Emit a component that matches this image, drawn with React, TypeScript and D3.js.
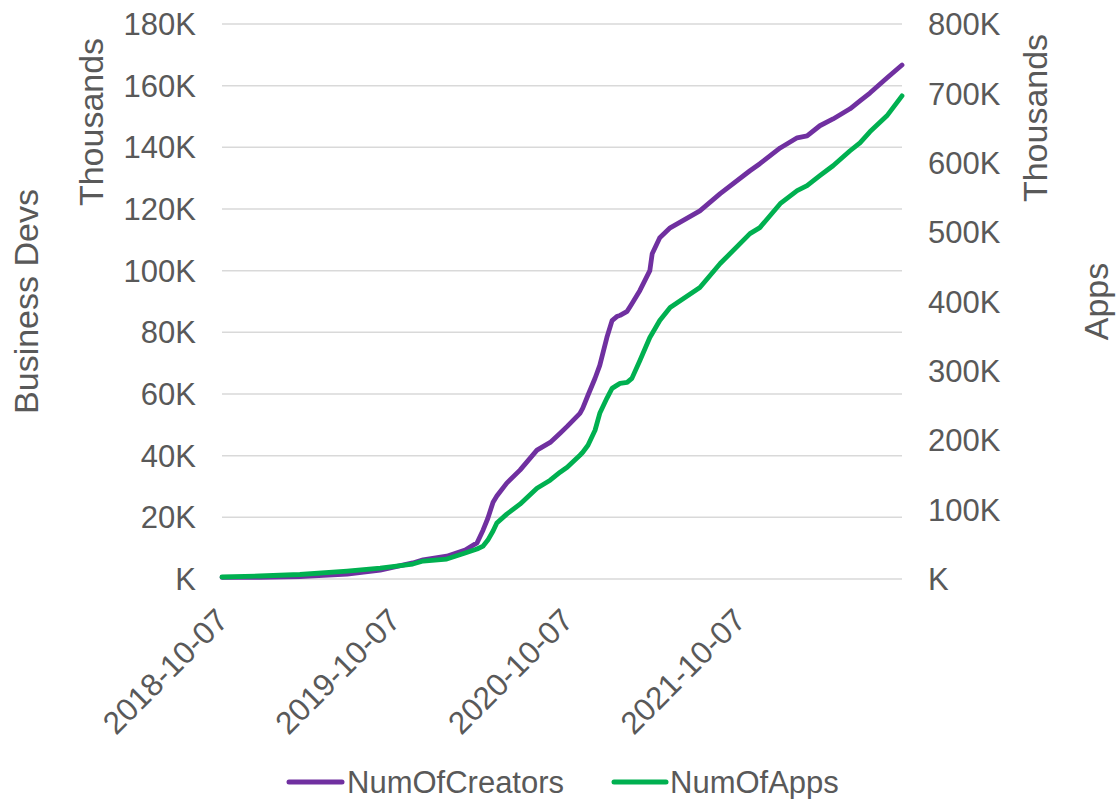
import React from "react";
import * as d3 from "d3";

const dates = [
  "2018-10-07","2018-12-26","2019-03-21","2019-06-29","2019-09-07","2019-11-15","2019-12-07",
  "2020-01-26","2020-03-05","2020-03-30","2020-04-12","2020-04-22","2020-05-03","2020-05-11",
  "2020-06-01","2020-06-29","2020-08-04","2020-09-01","2020-09-22","2020-10-07","2020-11-03",
  "2020-11-09","2020-11-20","2020-12-05","2020-12-15","2020-12-30","2021-01-10","2021-01-20",
  "2021-01-27","2021-02-11","2021-02-21","2021-03-10","2021-03-31","2021-04-05","2021-04-21",
  "2021-05-13","2021-07-15","2021-08-27","2021-10-29","2021-11-19","2022-01-01","2022-02-06",
  "2022-02-27","2022-03-26","2022-04-23","2022-05-29","2022-06-19","2022-07-10","2022-08-15",
  "2022-09-16",
];

// thousands
const numOfCreators = [
  0.5, 0.5, 0.8, 1.6, 2.9, 5.2, 6.2, 7.4, 9.4, 11.7, 15.9, 19.7, 24.9, 26.9,
  31.1, 35.3, 41.8, 44.3, 47.3, 49.5, 53.7, 55.4, 59.6, 65.1, 69.3, 78.3, 83.8, 85.1,
  85.5, 86.8, 89.3, 93.6, 100.0, 105.5, 110.7, 113.9, 119.4, 125.0, 132.4, 134.7, 139.8, 143.1,
  143.7, 147.0, 149.2, 152.5, 155.1, 157.6, 162.5, 166.7,
];

// thousands
const numOfApps = [
  2.9, 4.3, 6.5, 11.5, 15.8, 21.6, 25.9, 28.8, 37.4, 43.2, 47.5, 56.1, 69.1, 80.6,
  93.5, 107.9, 130.9, 142.4, 154.0, 161.1, 178.4, 182.7, 192.8, 214.4, 238.8, 260.4, 274.8, 279.1,
  282.0, 283.4, 289.2, 315.1, 348.2, 353.9, 372.6, 391.4, 420.1, 454.7, 497.8, 506.5, 541.0, 559.7,
  566.9, 581.3, 595.7, 617.3, 628.8, 644.6, 667.6, 696.4,
];

const leftTicks = [0, 20, 40, 60, 80, 100, 120, 140, 160, 180];
const rightTicks = [0, 100, 200, 300, 400, 500, 600, 700, 800];
const xTickDates = ["2018-10-07", "2019-10-07", "2020-10-07", "2021-10-07"];
const seriesNames = ["NumOfCreators", "NumOfApps"];
const seriesColors = ["#7030A0", "#00B050"];

const parse = d3.timeParse("%Y-%m-%d");
const FONT = "'Liberation Sans', Arial, sans-serif";
const TXT = "#595959";

export default function App() {
  const W = 1120, H = 799;
  const left = 222, right = 902, top = 24, bottom = 579;

  const x = d3.scaleTime()
    .domain([parse(dates[0]) as Date, parse(dates[dates.length - 1]) as Date])
    .range([left, right]);
  const yL = d3.scaleLinear().domain([0, 180]).range([bottom, top]);
  const yR = d3.scaleLinear().domain([0, 800]).range([bottom, top]);

  const pts = dates.map((d) => parse(d) as Date);
  const lineL = d3.line<number>().x((_, i) => x(pts[i])).y((v) => yL(v));
  const lineR = d3.line<number>().x((_, i) => x(pts[i])).y((v) => yR(v));

  const fmt = (v: number) => (v === 0 ? "K" : `${v}K`);

  return (
    <svg width={W} height={H} style={{ position: "absolute", left: 0, top: 0, background: "#fff" }} fontFamily={FONT}>
      {leftTicks.map((t) => (
        <line key={"g" + t} x1={left} x2={right} y1={yL(t)} y2={yL(t)} stroke="#d9d9d9" strokeWidth={1.5} />
      ))}
      {leftTicks.map((t) => (
        <text key={"l" + t} x={196} y={yL(t)} dy="0.36em" textAnchor="end" fontSize={31} fill={TXT}>
          {fmt(t)}
        </text>
      ))}
      {rightTicks.map((t) => (
        <text key={"r" + t} x={928} y={yR(t)} dy="0.36em" textAnchor="start" fontSize={31} fill={TXT}>
          {fmt(t)}
        </text>
      ))}
      {xTickDates.map((d) => {
        const px = x(parse(d) as Date);
        return (
          <text key={d} transform={`translate(${px},${614}) rotate(-45)`} textAnchor="end" dy="0.36em" fontSize={31.5} fill={TXT}>
            {d}
          </text>
        );
      })}
      <text transform={`translate(38,${(top + bottom) / 2}) rotate(-90)`} textAnchor="middle" fontSize={34} fill={TXT}>Business Devs</text>
      <text transform={`translate(103,122) rotate(-90)`} textAnchor="middle" fontSize={34} fill={TXT}>Thousands</text>
      <text transform={`translate(1047,118) rotate(-90)`} textAnchor="middle" fontSize={34} fill={TXT}>Thousands</text>
      <text transform={`translate(1108,${(top + bottom) / 2}) rotate(-90)`} textAnchor="middle" fontSize={34} fill={TXT}>Apps</text>

      <path d={lineL(numOfCreators) || ""} fill="none" stroke={seriesColors[0]} strokeWidth={4.8} strokeLinejoin="round" strokeLinecap="round" />
      <path d={lineR(numOfApps) || ""} fill="none" stroke={seriesColors[1]} strokeWidth={4.8} strokeLinejoin="round" strokeLinecap="round" />

      <line x1={289} x2={342} y1={782} y2={782} stroke={seriesColors[0]} strokeWidth={5} strokeLinecap="round" />
      <text x={347} y={782} dy="0.36em" fontSize={31} fill={TXT}>{seriesNames[0]}</text>
      <line x1={614} x2={666} y1={782} y2={782} stroke={seriesColors[1]} strokeWidth={5} strokeLinecap="round" />
      <text x={670} y={782} dy="0.36em" fontSize={31} fill={TXT}>{seriesNames[1]}</text>
    </svg>
  );
}
